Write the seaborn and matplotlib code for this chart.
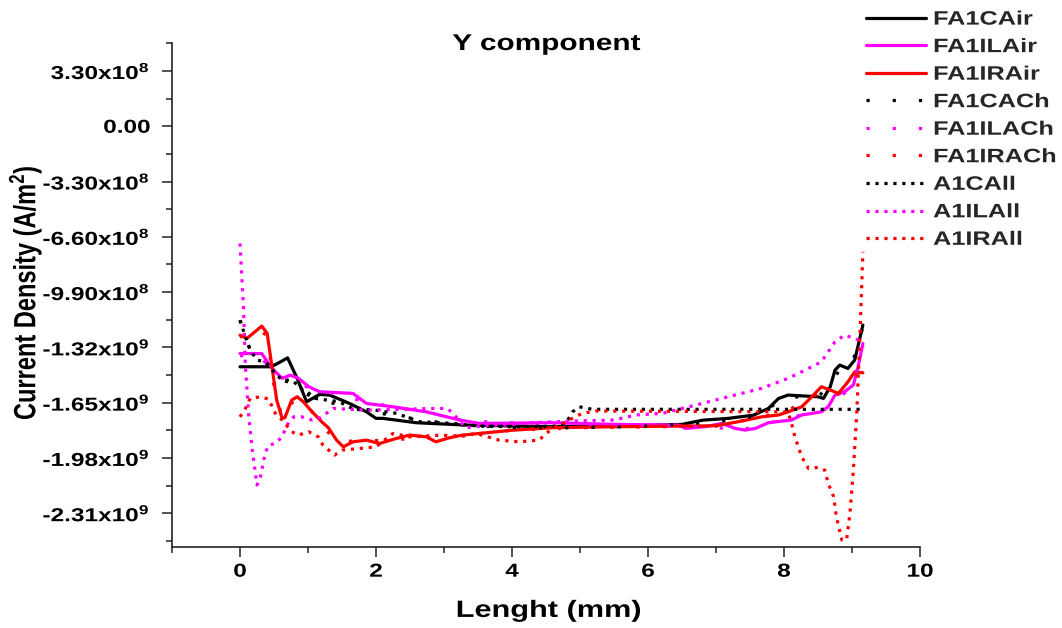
import numpy as np
import matplotlib
matplotlib.use("Agg")
import matplotlib.pyplot as plt
import seaborn as sns
from matplotlib.patheffects import AbstractPathEffect
from matplotlib.transforms import Affine2D
from matplotlib.ticker import FixedLocator, FixedFormatter, MultipleLocator

# ---------------------------------------------------------------- data
# lengths in mm, current densities in A/m^2 (written in units of 1e9)
fa1cair_x = [0.00, 0.46, 0.58, 0.70, 0.83, 0.98, 1.17, 1.32, 1.61, 1.86, 2.00, 2.10,
             2.59, 3.32, 4.55, 5.50, 6.50, 6.80, 7.18, 7.55, 7.77, 7.92, 8.06, 8.50,
             8.58, 8.68, 8.75, 8.82, 8.94, 9.04, 9.12, 9.16]
fa1cair_y = [-1.436, -1.436, -1.410, -1.383, -1.496, -1.645, -1.601, -1.605, -1.655,
             -1.705, -1.744, -1.744, -1.770, -1.784, -1.794, -1.790, -1.780, -1.755,
             -1.744, -1.725, -1.685, -1.625, -1.605, -1.615, -1.625, -1.555, -1.456,
             -1.426, -1.446, -1.396, -1.257, -1.187]

fa1ilair_x = [0.00, 0.32, 0.42, 0.52, 0.62, 0.74, 0.86, 1.01, 1.17, 1.66, 1.86, 2.25,
              2.74, 3.23, 3.52, 4.60, 5.50, 6.45, 6.55, 6.84, 7.09, 7.28, 7.43, 7.58,
              7.77, 8.11, 8.26, 8.55, 8.65, 8.75, 8.89, 9.02, 9.09, 9.16]
fa1ilair_y = [-1.357, -1.357, -1.416, -1.466, -1.505, -1.486, -1.505, -1.555, -1.585,
              -1.595, -1.655, -1.675, -1.705, -1.754, -1.774, -1.770, -1.780, -1.784,
              -1.804, -1.794, -1.774, -1.804, -1.814, -1.804, -1.770, -1.754, -1.724,
              -1.705, -1.675, -1.605, -1.585, -1.545, -1.436, -1.297]

fa1irair_x = [0.00, 0.10, 0.22, 0.32, 0.40, 0.47, 0.54, 0.62, 0.66, 0.76, 0.84, 0.93,
              1.05, 1.20, 1.30, 1.42, 1.52, 1.66, 1.86, 2.05, 2.30, 2.49, 2.74, 2.88,
              3.08, 3.27, 3.52, 4.00, 4.60, 5.50, 6.50, 7.00, 7.33, 7.67, 7.92, 8.06,
              8.26, 8.41, 8.55, 8.68, 8.80, 8.94, 9.04, 9.16]
fa1irair_y = [-1.247, -1.267, -1.227, -1.193, -1.237, -1.436, -1.635, -1.744, -1.740,
              -1.635, -1.615, -1.645, -1.700, -1.764, -1.800, -1.874, -1.914, -1.884,
              -1.874, -1.894, -1.864, -1.844, -1.854, -1.884, -1.860, -1.844, -1.834,
              -1.815, -1.800, -1.794, -1.790, -1.788, -1.764, -1.735, -1.724, -1.705,
              -1.675, -1.615, -1.555, -1.575, -1.595, -1.526, -1.466, -1.472]

fa1cach_x = [0.00, 0.15, 0.37, 0.62, 0.86, 1.11, 1.65, 2.30, 3.13, 4.00, 5.00, 6.00,
             7.00, 7.60, 7.90, 8.10, 8.50, 8.70, 8.85, 9.00, 9.16]
fa1cach_y = [-1.158, -1.337, -1.406, -1.516, -1.545, -1.625, -1.685, -1.730, -1.780,
             -1.800, -1.800, -1.790, -1.765, -1.730, -1.650, -1.615, -1.620, -1.520,
             -1.440, -1.420, -1.200]

fa1ilach_x = [0.00, 0.30, 0.52, 0.75, 1.00, 1.30, 1.80, 2.30, 2.80, 3.30, 4.00, 5.00,
              6.00, 6.80, 7.40, 7.80, 8.20, 8.60, 8.90, 9.10, 9.16]
fa1ilach_y = [-1.370, -1.370, -1.500, -1.500, -1.560, -1.590, -1.640, -1.680, -1.710,
              -1.760, -1.770, -1.780, -1.785, -1.795, -1.810, -1.770, -1.730, -1.690,
              -1.590, -1.440, -1.310]

fa1irach_x = [0.00, 0.25, 0.40, 0.50, 0.62, 0.80, 1.05, 1.40, 1.80, 2.30, 2.80, 3.30,
              4.00, 5.00, 6.00, 7.00, 7.60, 8.00, 8.40, 8.60, 8.80, 9.00, 9.16]
fa1irach_y = [-1.260, -1.210, -1.250, -1.550, -1.740, -1.630, -1.700, -1.880, -1.880,
              -1.870, -1.860, -1.845, -1.815, -1.800, -1.795, -1.790, -1.740, -1.710,
              -1.620, -1.570, -1.600, -1.500, -1.470]

a1call_x = [0.00, 0.08, 0.15, 0.25, 0.37, 0.52, 0.62, 0.74, 0.86, 0.96, 1.11, 1.46,
            1.65, 1.99, 2.30, 2.64, 3.13, 3.50, 4.00, 4.69, 4.79, 4.89, 4.99, 5.18, 9.16]
a1call_y = [-1.158, -1.257, -1.337, -1.396, -1.406, -1.476, -1.516, -1.516, -1.545,
            -1.595, -1.625, -1.645, -1.685, -1.695, -1.714, -1.764, -1.774, -1.790,
            -1.794, -1.790, -1.775, -1.705, -1.675, -1.690, -1.690]

a1ilall_x = [0.00, 0.05, 0.08, 0.13, 0.18, 0.25, 0.30, 0.37, 0.42, 0.52, 0.62, 0.69,
             0.79, 0.91, 1.06, 1.18, 1.37, 1.86, 2.35, 2.83, 3.05, 3.13, 3.32, 3.70,
             3.90, 4.30, 4.90, 5.50, 5.82, 6.21, 6.70, 7.18, 7.67, 8.06, 8.31, 8.55,
             8.75, 8.89, 9.04, 9.16]
a1ilall_y = [-0.700, -1.070, -1.436, -1.735, -1.933, -2.142, -2.093, -1.953, -1.904,
             -1.894, -1.854, -1.784, -1.735, -1.735, -1.754, -1.740, -1.685, -1.695,
             -1.690, -1.685, -1.685, -1.714, -1.800, -1.784, -1.784, -1.770, -1.760,
             -1.754, -1.724, -1.714, -1.665, -1.615, -1.565, -1.505, -1.456, -1.406,
             -1.287, -1.247, -1.267, -1.287]

a1irall_x = [0.00, 0.08, 0.15, 0.30, 0.42, 0.52, 0.62, 0.76, 0.86, 1.01, 1.15, 1.22,
             1.39, 1.51, 2.00, 2.25, 2.49, 2.98, 3.23, 3.47, 3.81, 4.11, 4.40, 4.50,
             4.64, 4.84, 5.03, 5.23, 8.06, 8.11, 8.16, 8.26, 8.36, 8.50, 8.60, 8.65,
             8.73, 8.77, 8.85, 8.92, 8.97, 9.02, 9.07, 9.12, 9.16]
a1irall_y = [-1.735, -1.685, -1.625, -1.615, -1.629, -1.714, -1.754, -1.824, -1.844,
             -1.824, -1.854, -1.904, -1.963, -1.933, -1.914, -1.834, -1.854, -1.844,
             -1.854, -1.834, -1.874, -1.884, -1.874, -1.834, -1.794, -1.754, -1.714,
             -1.700, -1.705, -1.774, -1.854, -1.973, -2.043, -2.037, -2.053, -2.132,
             -2.212, -2.331, -2.470, -2.470, -2.311, -2.053, -1.714, -1.217, -0.750]

series_names = ["FA1CAir", "FA1ILAir", "FA1IRAir", "FA1CACh", "FA1ILACh",
                "FA1IRACh", "A1CAll", "A1ILAll", "A1IRAll"]

ytick_values = [-2.31e9, -1.98e9, -1.65e9, -1.32e9, -9.9e8, -6.6e8, -3.3e8, 0.0, 3.3e8]
ytick_labels = [r"-2.31x10$^{9}$", r"-1.98x10$^{9}$", r"-1.65x10$^{9}$",
                r"-1.32x10$^{9}$", r"-9.90x10$^{8}$", r"-6.60x10$^{8}$",
                r"-3.30x10$^{8}$", "0.00", r"3.30x10$^{8}$"]


# ---------------------------------------------------------------- style
class WideText(AbstractPathEffect):
    """Draw text glyphs widened horizontally about a fixed display x."""

    def __init__(self, factor, ref_x):
        super().__init__()
        self.factor = factor
        self.ref_x = ref_x

    def draw_path(self, renderer, gc, tpath, affine, rgbFace=None):
        widen = (Affine2D().translate(-self.ref_x, 0)
                 .scale(self.factor, 1).translate(self.ref_x, 0))
        renderer.draw_path(gc, tpath, affine + widen, rgbFace)


def widen_text(txt, renderer, anchor, factor=1.3):
    bb = txt.get_window_extent(renderer)
    ref = {"left": bb.x0, "right": bb.x1}.get(anchor, 0.5 * (bb.x0 + bb.x1))
    txt.set_path_effects([WideText(factor, ref)])


sns.set_theme(style="ticks")
plt.rcParams["font.family"] = ["Liberation Sans", "DejaVu Sans"]
plt.rcParams["font.weight"] = "bold"
plt.rcParams["mathtext.fontset"] = "custom"
plt.rcParams["mathtext.rm"] = "Liberation Sans:bold"
plt.rcParams["mathtext.it"] = "Liberation Sans:bold"
plt.rcParams["mathtext.bf"] = "Liberation Sans:bold"

SOLID = "-"
SPARSE = (0, (1, 7.2))
DENSE = (0, (1, 1.8))
BLACK, MAGENTA, RED = "#000000", "#FF00FF", "#FF0000"

scale = 1e9
curves = [
    (fa1cair_x, fa1cair_y, BLACK, SOLID),
    (fa1ilair_x, fa1ilair_y, MAGENTA, SOLID),
    (fa1irair_x, fa1irair_y, RED, SOLID),
    (fa1cach_x, fa1cach_y, BLACK, SPARSE),
    (fa1ilach_x, fa1ilach_y, MAGENTA, SPARSE),
    (fa1irach_x, fa1irach_y, RED, SPARSE),
    (a1call_x, a1call_y, BLACK, DENSE),
    (a1ilall_x, a1ilall_y, MAGENTA, DENSE),
    (a1irall_x, a1irall_y, RED, DENSE),
]

# ---------------------------------------------------------------- figure
fig = plt.figure(figsize=(10.62, 6.28), dpi=100)
ax = fig.add_axes([172 / 1062, 81 / 628, 748 / 1062, 504 / 628])

for name, (xs, ys, color, style) in zip(series_names, curves):
    sns.lineplot(x=np.asarray(xs), y=np.asarray(ys) * scale, ax=ax, color=color,
                 linestyle=style, linewidth=2.3, sort=False, estimator=None,
                 label=name, legend=False)

ax.set_xlim(-1, 10)
ax.set_ylim(-2.512e9, 4.97e8)
ax.xaxis.set_major_locator(MultipleLocator(2))
ax.xaxis.set_minor_locator(MultipleLocator(1))
ax.yaxis.set_major_locator(FixedLocator(ytick_values))
ax.yaxis.set_major_formatter(FixedFormatter(ytick_labels))
ax.yaxis.set_minor_locator(MultipleLocator(1.65e8))

sns.despine(ax=ax)
for side in ("left", "bottom"):
    ax.spines[side].set_linewidth(1.2)
    ax.spines[side].set_color("#222222")
ax.tick_params(which="major", direction="out", length=7.5, width=1.1,
               color="#222222", labelsize=13.5, labelcolor="black")
ax.tick_params(which="minor", direction="out", length=4, width=1.1, color="#222222")
ax.tick_params(axis="y", which="major", pad=8)
ax.tick_params(axis="x", which="major", pad=4.5)

ax.set_xlabel("Lenght (mm)", fontsize=17, fontweight="bold", color="black")
ax.set_ylabel("Current Density (A/m$^{2}$)", fontsize=17, fontweight="bold",
              color="black")
ax.xaxis.set_label_coords(0.504, -0.103)
ax.yaxis.set_label_coords(-0.1765, 0.505)

title = ax.text(0.5, 0.986, "Y component", transform=ax.transAxes, ha="center",
                va="baseline", fontsize=16.5, fontweight="bold", color="black")

handles = ax.get_lines()[:len(series_names)]
leg = ax.legend(handles, series_names, loc="upper left",
                bbox_to_anchor=(866 / 1062, 1 - 11 / 628),
                bbox_transform=fig.transFigure, frameon=False,
                prop={"size": 14, "weight": "bold"}, handlelength=3.1,
                handletextpad=0.35, labelspacing=0.51, borderpad=0,
                borderaxespad=0)

fig.canvas.draw()
renderer = fig.canvas.get_renderer()
for lab in ax.get_yticklabels():
    widen_text(lab, renderer, "right")
for lab in ax.get_xticklabels():
    widen_text(lab, renderer, "center")
for txt in leg.get_texts():
    widen_text(txt, renderer, "left")
for txt in (title, ax.xaxis.label, ax.yaxis.label):
    widen_text(txt, renderer, "center")

fig.savefig("out.png", dpi=100)
